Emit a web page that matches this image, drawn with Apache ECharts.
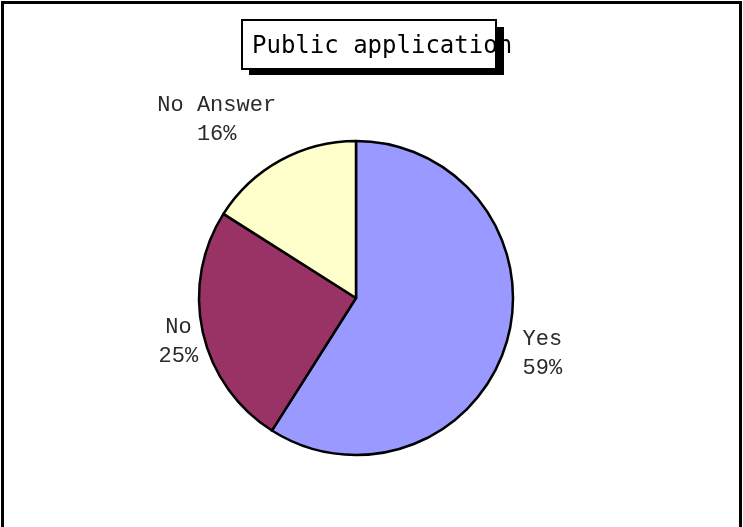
<!DOCTYPE html>
<html>
<head>
<meta charset="utf-8">
<script src="https://cdn.jsdelivr.net/npm/echarts@6/dist/echarts.min.js"></script>
<style>
  html, body { margin: 0; padding: 0; background: #ffffff; }
  #chart { width: 743px; height: 527px; }
</style>
</head>
<body>
<div id="chart"></div>
<script>
const titleText = 'Public application';
const categories = ['Yes', 'No', 'No Answer'];
const shares = [59, 25, 16];
const sliceColors = ['#9999FF', '#993366', '#FFFFCC'];

// pie geometry in pixels
const CX = 356, CY = 298, R = 157;

// where each label sits: distance past the rim along the slice's middle, plus a nudge
const labelPlacement = {
  'Yes':       { gap: 37, dx: 0,   dy: 2 },
  'No':        { gap: 25, dx: 0,   dy: 4 },
  'No Answer': { gap: 45, dx: -42, dy: -1 }
};

const total = shares.reduce((a, b) => a + b, 0);
function midAngle(i) {
  let before = 0;
  for (let k = 0; k < i; k++) before += shares[k];
  return (before + shares[i] / 2) / total * Math.PI * 2; // clockwise from 12 o'clock
}

const chart = echarts.init(document.getElementById('chart'), null, { renderer: 'canvas' });

chart.setOption({
  animation: false,
  backgroundColor: '#ffffff',
  graphic: [
    // outer frame
    {
      type: 'rect', z: 10, silent: true,
      shape: { x: 2.5, y: 2.5, width: 738, height: 540 },
      style: { fill: null, stroke: '#000', lineWidth: 3 }
    },
    // title box shadow
    {
      type: 'rect', z: 10, silent: true,
      shape: { x: 249, y: 27, width: 255, height: 48 },
      style: { fill: '#000' }
    },
    // title box
    {
      type: 'rect', z: 11, silent: true,
      shape: { x: 242, y: 20, width: 254, height: 49 },
      style: { fill: '#fff', stroke: '#000', lineWidth: 2 }
    },
    // title text
    {
      type: 'text', z: 12, silent: true,
      x: 252, y: 47,
      style: {
        text: titleText,
        fill: '#000',
        font: '24px "DejaVu Sans Mono"',
        textAlign: 'left',
        textVerticalAlign: 'middle'
      }
    }
  ],
  series: [{
    type: 'pie',
    center: [CX, CY],
    radius: R,
    startAngle: 90,
    clockwise: true,
    avoidLabelOverlap: false,
    silent: true,
    itemStyle: { borderColor: '#000', borderWidth: 2.5 },
    emphasis: { disabled: true },
    labelLine: { show: false },
    label: {
      show: true,
      position: 'outside',
      formatter: '{b}\n{c}%',
      fontFamily: '"Liberation Mono"',
      fontSize: 22,
      lineHeight: 29,
      color: '#2a2a2a'
    },
    labelLayout: function (params) {
      const i = params.dataIndex;
      const p = labelPlacement[categories[i]];
      const a = midAngle(i);
      const r = R + p.gap;
      return {
        x: CX + r * Math.sin(a) + p.dx,
        y: CY - r * Math.cos(a) + p.dy,
        align: 'center',
        verticalAlign: 'middle'
      };
    },
    data: categories.map((name, i) => ({
      name: name,
      value: shares[i],
      itemStyle: { color: sliceColors[i] }
    }))
  }]
});
</script>
</body>
</html>
